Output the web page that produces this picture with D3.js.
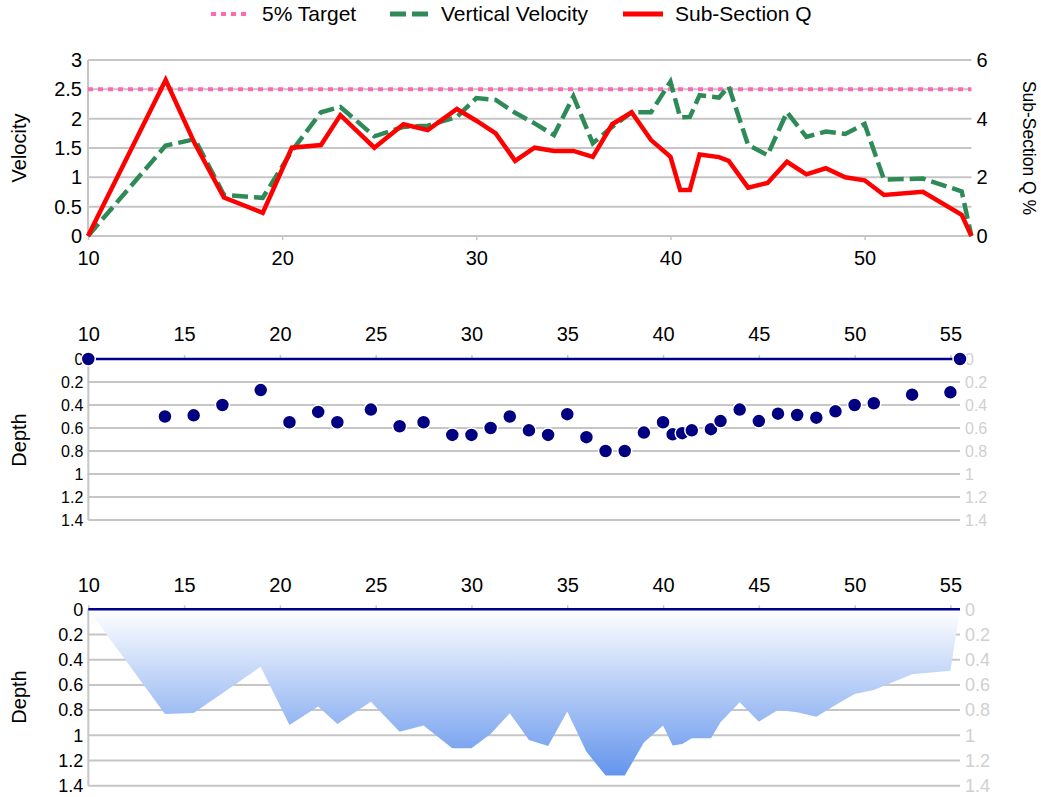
<!DOCTYPE html>
<html>
<head>
<meta charset="utf-8">
<script src="https://cdn.jsdelivr.net/npm/d3@7"></script>
<style>
  html, body { margin: 0; padding: 0; background: #ffffff; }
  svg { display: block; font-family: "Liberation Sans", Arial, sans-serif; }
</style>
</head>
<body>
<svg id="chart" width="1041" height="797"></svg>
<script>
// ---------------- DATA ----------------
const stations = [10, 14, 15.5, 17, 19, 20.5, 22, 23, 24.75, 26.25, 27.5, 29, 30, 31, 32, 33, 34, 35, 36, 37, 38, 39, 40, 40.5, 41, 41.5, 42.5, 43, 44, 45, 46, 47, 48, 49, 50, 51, 53, 55, 55.5];
const verticalVelocity = [0, 1.54, 1.65, 0.70, 0.65, 1.45, 2.11, 2.20, 1.70, 1.86, 1.88, 2.03, 2.35, 2.32, 2.10, 1.92, 1.72, 2.38, 1.58, 1.86, 2.11, 2.11, 2.63, 2.02, 2.03, 2.40, 2.36, 2.55, 1.55, 1.38, 2.11, 1.69, 1.78, 1.74, 1.91, 0.96, 0.98, 0.76, 0];
const subSectionQ = [0, 5.32, 3.15, 1.31, 0.79, 3.01, 3.10, 4.12, 3.01, 3.81, 3.61, 4.33, 3.93, 3.50, 2.56, 3.01, 2.90, 2.90, 2.70, 3.81, 4.22, 3.27, 2.70, 1.57, 1.57, 2.78, 2.69, 2.56, 1.65, 1.81, 2.53, 2.10, 2.31, 2.00, 1.90, 1.40, 1.51, 0.72, 0];
const targetQ = 5;
const measureDepth = [0, 0.50, 0.49, 0.40, 0.27, 0.55, 0.46, 0.55, 0.44, 0.585, 0.55, 0.66, 0.66, 0.60, 0.50, 0.62, 0.66, 0.48, 0.68, 0.80, 0.80, 0.64, 0.55, 0.655, 0.645, 0.62, 0.61, 0.54, 0.44, 0.54, 0.475, 0.487, 0.51, 0.455, 0.40, 0.385, 0.31, 0.29, 0];
const totalDepth = [0, 0.83, 0.823, 0.667, 0.455, 0.918, 0.772, 0.91, 0.733, 0.971, 0.923, 1.103, 1.103, 0.99, 0.825, 1.037, 1.085, 0.812, 1.13, 1.32, 1.32, 1.058, 0.923, 1.08, 1.069, 1.024, 1.024, 0.897, 0.738, 0.892, 0.80, 0.817, 0.852, 0.76, 0.672, 0.64, 0.516, 0.487, 0];

const topXTicks = [10, 20, 30, 40, 50];
const velTicks = [0, 0.5, 1, 1.5, 2, 2.5, 3];
const qTicks = [0, 2, 4, 6];
const depthXTicks = [10, 15, 20, 25, 30, 35, 40, 45, 50, 55];
const depthTicks = [0, 0.2, 0.4, 0.6, 0.8, 1, 1.2, 1.4];

const legendItems = [
  { label: "5% Target", color: "#ff69b4", dash: "5,5" },
  { label: "Vertical Velocity", color: "#2e8b57", dash: "16,6" },
  { label: "Sub-Section Q", color: "#ff0000", dash: null }
];

// ---------------- SETUP ----------------
const svg = d3.select("#chart");
const GRID = "#c6c6c6";
const fmt = d => String(d);

function styleAxis(g, size, color) {
  g.select(".domain").remove();
  g.selectAll(".tick line").attr("stroke", GRID).attr("stroke-width", 1.5);
  g.selectAll(".tick text").attr("fill", color).style("font-size", size + "px")
    .attr("font-family", "'Liberation Sans', Arial, sans-serif");
}

// ================= TOP CHART =================
const x1 = d3.scaleLinear().domain([10, 55.5]).range([88, 971.4]);
const yV = d3.scaleLinear().domain([0, 3]).range([236, 60]);
const yQ = d3.scaleLinear().domain([0, 6]).range([236, 60]);

svg.append("g").selectAll("line").data(velTicks).join("line")
  .attr("x1", x1(10)).attr("x2", x1(55.5))
  .attr("y1", d => yV(d)).attr("y2", d => yV(d))
  .attr("stroke", GRID).attr("stroke-width", 2);
svg.append("line").attr("x1", x1(10)).attr("x2", x1(10)).attr("y1", yV(3)).attr("y2", yV(0))
  .attr("stroke", GRID).attr("stroke-width", 2);

const gL = svg.append("g").attr("transform", `translate(${x1(10)},0)`)
  .call(d3.axisLeft(yV).tickValues(velTicks).tickSize(0).tickPadding(6).tickFormat(fmt));
styleAxis(gL, 20, "#000");
const gR = svg.append("g").attr("transform", `translate(${x1(55.5)},0)`)
  .call(d3.axisRight(yQ).tickValues(qTicks).tickSize(0).tickPadding(5).tickFormat(fmt));
styleAxis(gR, 20, "#000");
const gB = svg.append("g").attr("transform", `translate(0,${yV(0)})`)
  .call(d3.axisBottom(x1).tickValues(topXTicks).tickSize(4).tickFormat(fmt));
styleAxis(gB, 20, "#000");
gB.selectAll(".tick text").attr("y", 22).attr("dy", "0.35em");

svg.append("line")
  .attr("x1", x1(10)).attr("x2", x1(55.5))
  .attr("y1", yQ(targetQ)).attr("y2", yQ(targetQ))
  .attr("stroke", "#ff69b4").attr("stroke-width", 4).attr("stroke-dasharray", "5,5");

const velLine = d3.line().x((d, i) => x1(stations[i])).y(d => yV(d));
svg.append("path").datum(verticalVelocity).attr("d", velLine)
  .attr("fill", "none").attr("stroke", "#2e8b57").attr("stroke-width", 4.5)
  .attr("stroke-dasharray", "16,6").attr("stroke-linejoin", "miter");

const qLine = d3.line().x((d, i) => x1(stations[i])).y(d => yQ(d));
svg.append("path").datum(subSectionQ).attr("d", qLine)
  .attr("fill", "none").attr("stroke", "#ff0000").attr("stroke-width", 4.5)
  .attr("stroke-linejoin", "miter");

svg.append("text").attr("transform", `translate(26,148) rotate(-90)`)
  .attr("text-anchor", "middle").style("font-size", "20px").text("Velocity");
svg.append("text").attr("transform", `translate(1023,148) rotate(90)`)
  .attr("text-anchor", "middle").style("font-size", "17.5px").text("Sub-Section Q %");

// legend
const legendX = [211, 390, 623];
const legendTextX = [51, 51, 52];
const lg = svg.append("g");
legendItems.forEach((it, i) => {
  const g = lg.append("g").attr("transform", `translate(${legendX[i]},14)`);
  g.append("line").attr("x1", 0).attr("x2", 40).attr("y1", 0).attr("y2", 0)
    .attr("stroke", it.color).attr("stroke-width", it.dash === "5,5" ? 4 : 5)
    .attr("stroke-dasharray", it.dash);
  g.append("text").attr("x", legendTextX[i]).attr("y", 0).attr("dy", "0.35em")
    .style("font-size", "21px").text(it.label);
});

// ================= MIDDLE CHART =================
const x2 = d3.scaleLinear().domain([10, 55.5]).range([88.3, 960]);
const yD = d3.scaleLinear().domain([0, 1.4]).range([359, 520]);

svg.append("g").selectAll("line").data(depthTicks.filter(d => d > 0)).join("line")
  .attr("x1", x2(10)).attr("x2", x2(55.5))
  .attr("y1", d => yD(d)).attr("y2", d => yD(d))
  .attr("stroke", GRID).attr("stroke-width", 2);
svg.append("line").attr("x1", x2(10)).attr("x2", x2(10)).attr("y1", yD(0)).attr("y2", yD(1.4))
  .attr("stroke", GRID).attr("stroke-width", 2);

const mL = svg.append("g").attr("transform", `translate(${x2(10)},0)`)
  .call(d3.axisLeft(yD).tickValues(depthTicks).tickSize(0).tickPadding(5).tickFormat(fmt));
styleAxis(mL, 16, "#000");
const mR = svg.append("g").attr("transform", `translate(${x2(55.5)},0)`)
  .call(d3.axisRight(yD).tickValues(depthTicks).tickSize(0).tickPadding(5).tickFormat(fmt));
styleAxis(mR, 16, "#d0d0d0");
const mT = svg.append("g").attr("transform", `translate(0,${yD(0)})`)
  .call(d3.axisTop(x2).tickValues(depthXTicks).tickSize(4).tickFormat(fmt));
styleAxis(mT, 20, "#000");
mT.selectAll(".tick text").attr("y", -25).attr("dy", "0.35em");

svg.append("path").datum([stations[0], stations[stations.length - 1]])
  .attr("d", d3.line().x(d => x2(d)).y(() => yD(0)))
  .attr("stroke", "#00008b").attr("stroke-width", 2.5).attr("fill", "none");

svg.append("g").selectAll("circle").data(measureDepth).join("circle")
  .attr("cx", (d, i) => x2(stations[i])).attr("cy", d => yD(d)).attr("r", 7)
  .attr("fill", "#000080").attr("stroke", "#ffffff").attr("stroke-width", 1.5);

svg.append("text").attr("transform", `translate(26,440) rotate(-90)`)
  .attr("text-anchor", "middle").style("font-size", "20px").text("Depth");

// ================= BOTTOM CHART =================
const x3 = d3.scaleLinear().domain([10, 55.5]).range([88.3, 960]);
const yB = d3.scaleLinear().domain([0, 1.4]).range([609.3, 785.7]);

const defs = svg.append("defs");
const grad = defs.append("linearGradient").attr("id", "bedGrad")
  .attr("gradientUnits", "userSpaceOnUse")
  .attr("x1", 0).attr("x2", 0).attr("y1", yB(0)).attr("y2", yB(d3.max(totalDepth)));
grad.append("stop").attr("offset", "0%").attr("stop-color", "#ffffff");
grad.append("stop").attr("offset", "100%").attr("stop-color", "#6495ed");

svg.append("g").selectAll("line").data(depthTicks.filter(d => d > 0)).join("line")
  .attr("x1", x3(10)).attr("x2", x3(55.5))
  .attr("y1", d => yB(d)).attr("y2", d => yB(d))
  .attr("stroke", GRID).attr("stroke-width", 2);
svg.append("line").attr("x1", x3(10)).attr("x2", x3(10)).attr("y1", yB(0)).attr("y2", yB(1.4))
  .attr("stroke", GRID).attr("stroke-width", 2);

const area = d3.area().x((d, i) => x3(stations[i])).y0(yB(0)).y1(d => yB(d));
svg.append("path").datum(totalDepth).attr("d", area).attr("fill", "url(#bedGrad)");

const bL = svg.append("g").attr("transform", `translate(${x3(10)},0)`)
  .call(d3.axisLeft(yB).tickValues(depthTicks).tickSize(0).tickPadding(5).tickFormat(fmt));
styleAxis(bL, 18, "#000");
const bR = svg.append("g").attr("transform", `translate(${x3(55.5)},0)`)
  .call(d3.axisRight(yB).tickValues(depthTicks).tickSize(0).tickPadding(5).tickFormat(fmt));
styleAxis(bR, 18, "#d0d0d0");
const bT = svg.append("g").attr("transform", `translate(0,${yB(0)})`)
  .call(d3.axisTop(x3).tickValues(depthXTicks).tickSize(4).tickFormat(fmt));
styleAxis(bT, 20, "#000");
bT.selectAll(".tick text").attr("y", -24).attr("dy", "0.35em");

svg.append("path").datum([stations[0], stations[stations.length - 1]])
  .attr("d", d3.line().x(d => x3(d)).y(() => yB(0)))
  .attr("stroke", "#00008b").attr("stroke-width", 2.5).attr("fill", "none");

svg.append("text").attr("transform", `translate(26,697) rotate(-90)`)
  .attr("text-anchor", "middle").style("font-size", "20px").text("Depth");
</script>
</body>
</html>
